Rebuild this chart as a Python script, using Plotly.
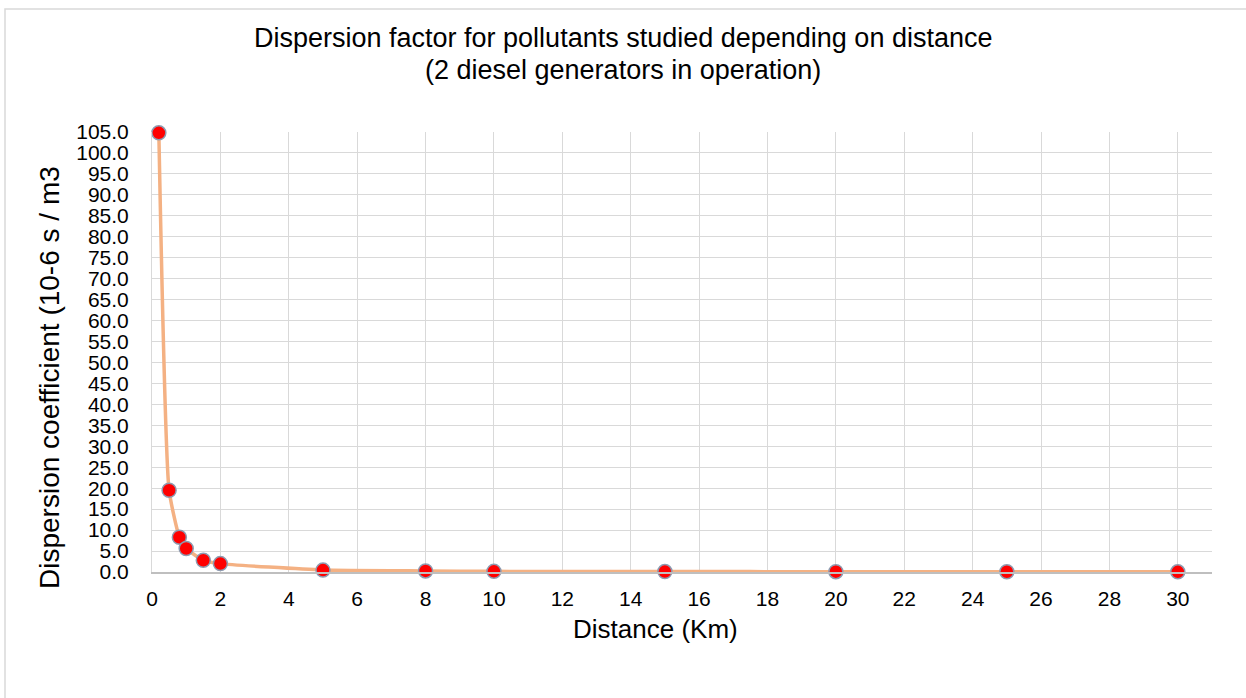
import plotly.graph_objects as go

distance_km = [0.2, 0.5, 0.8, 1.0, 1.5, 2, 5, 8, 10, 15, 20, 25, 30]
dispersion = [104.8, 19.5, 8.3, 5.6, 2.8, 2.0, 0.45, 0.25, 0.15, 0.1, 0.08, 0.05, 0.04]

title_line1 = "Dispersion factor for pollutants studied depending on distance"
title_line2 = "(2 diesel generators in operation)"
x_title = "Distance (Km)"
y_title = "Dispersion coefficient (10-6 s / m3"

W, H = 1246, 698
L, R, T, B = 152, 34, 132, 126
pw, ph = W - L - R, H - T - B

def px(xp):
    return (xp - L) / pw

def py(yp):
    return (H - B - yp) / ph

FONT = "Liberation Sans, Arial, sans-serif"

fig = go.Figure()
fig.add_trace(go.Scatter(
    x=distance_km, y=dispersion, mode="lines+markers",
    line=dict(color="#F4B183", width=3.5, shape="spline", smoothing=0.5),
    marker=dict(color="#FF0000", size=14, line=dict(color="#8E9BB0", width=1.5)),
    cliponaxis=False, showlegend=False,
))

fig.update_layout(
    width=W, height=H,
    margin=dict(l=L, r=R, t=T, b=B),
    paper_bgcolor="white", plot_bgcolor="white",
    font=dict(family=FONT, color="#000000", size=21),
    xaxis=dict(range=[0, 31], dtick=2, tick0=0, showgrid=True, gridcolor="#D9D9D9", gridwidth=1,
               showline=True, linecolor="#BFBFBF", linewidth=1.5, zeroline=False,
               ticks="", ticklabelstandoff=7, tickfont=dict(size=21, family=FONT)),
    yaxis=dict(range=[0, 105], dtick=5, tick0=0, tickformat=".1f", showgrid=True,
               gridcolor="#D9D9D9", gridwidth=1, showline=True, linecolor="#D9D9D9", linewidth=1,
               zeroline=False, ticks="", ticklabelstandoff=18, tickfont=dict(size=21, family=FONT)),
    annotations=[
        dict(text=title_line1, x=px(623), y=py(38), xref="paper", yref="paper",
             showarrow=False, font=dict(size=27, family=FONT), xanchor="center", yanchor="middle"),
        dict(text=title_line2, x=px(623), y=py(70), xref="paper", yref="paper",
             showarrow=False, font=dict(size=27, family=FONT), xanchor="center", yanchor="middle"),
        dict(text=x_title, x=px(655), y=py(629), xref="paper", yref="paper",
             showarrow=False, font=dict(size=26, family=FONT), xanchor="center", yanchor="middle"),
        dict(text=y_title, x=px(49), y=py(378), xref="paper", yref="paper", textangle=-90,
             showarrow=False, font=dict(size=28, family=FONT), xanchor="center", yanchor="middle"),
    ],
    shapes=[dict(type="rect", xref="paper", yref="paper", x0=px(5), x1=px(1260), y0=py(720), y1=py(9),
                 line=dict(color="#D9D9D9", width=1.5), fillcolor="rgba(0,0,0,0)", layer="below")],
)

fig.write_html("out.html", config={"displayModeBar": False},
               post_script="document.body.style.margin='0';document.body.style.overflow='hidden';")
